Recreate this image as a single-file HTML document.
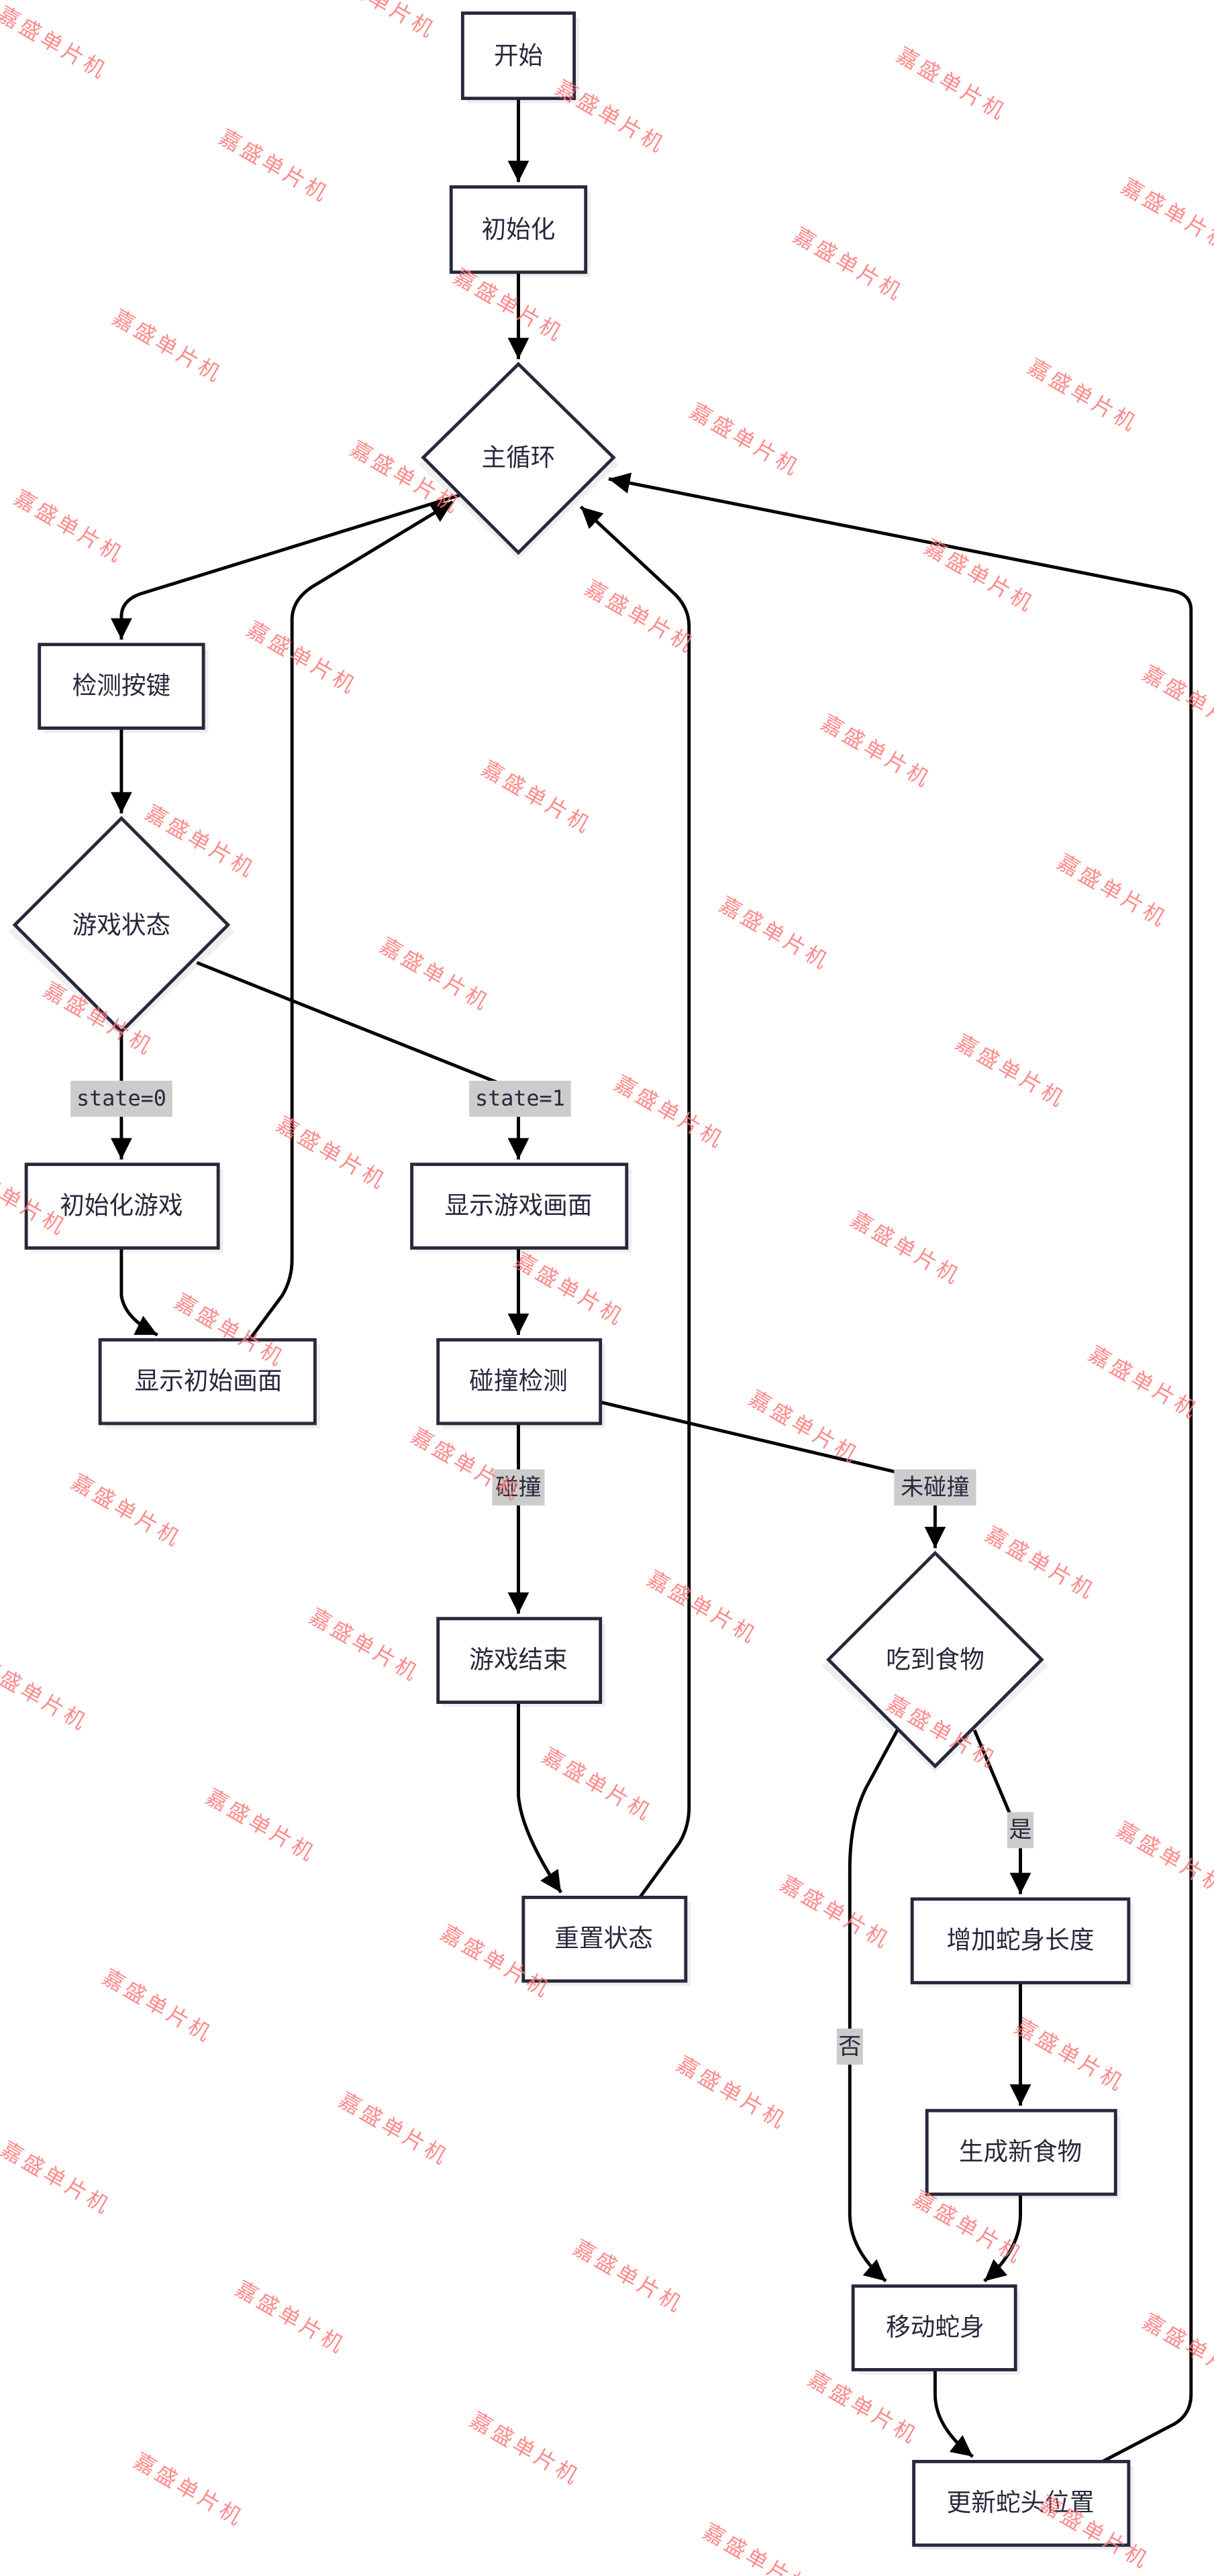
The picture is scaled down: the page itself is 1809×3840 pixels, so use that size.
<!DOCTYPE html>
<html><head><meta charset="utf-8">
<style>
html,body{margin:0;padding:0;background:#fff;}
svg{display:block;}
.n{fill:#fff;stroke:#28283c;stroke-width:2;}
.sh{fill:#efefef;}
.t{font-family:"Liberation Sans","Noto Sans CJK SC",sans-serif;font-size:15px;fill:#28283c;text-anchor:middle;dominant-baseline:central;}
.e{fill:none;stroke:#000;stroke-width:2;}
.lb{fill:#ccc;}
.lt{font-family:"Liberation Sans","Noto Sans CJK SC",sans-serif;font-size:14px;fill:#28283c;text-anchor:middle;dominant-baseline:central;}
.lm{font-family:"DejaVu Sans Mono","Liberation Mono",monospace;font-size:13px;fill:#28283c;text-anchor:middle;dominant-baseline:central;}
.w{font-family:"Liberation Sans","Noto Sans CJK SC",sans-serif;font-size:13px;fill:#f77;opacity:0.85;text-anchor:middle;letter-spacing:2px;}
</style></head>
<body>
<svg width="1809" height="3840" viewBox="0 0 740 1570.8" preserveAspectRatio="none" xmlns="http://www.w3.org/2000/svg">
<defs>
<marker id="a" markerUnits="userSpaceOnUse" markerWidth="13" markerHeight="13" refX="10" refY="5" orient="auto" viewBox="0 0 10 10">
<path d="M0,0 L10,5 L0,10 z" fill="#000"/>
</marker>
</defs>

<g class="sh">
<rect x="285" y="11" width="68" height="52"/>
<rect x="278" y="117" width="82" height="52"/>
<polygon points="316,226 377,283 316,341 255,283"/>
<rect x="27" y="396" width="100" height="51"/>
<polygon points="74,503 143,568 74,633 5,568"/>
<rect x="19" y="713" width="117" height="51"/>
<rect x="64" y="820" width="131" height="51"/>
<rect x="254" y="713" width="131" height="51"/>
<rect x="270" y="820" width="99" height="51"/>
<rect x="270" y="990" width="99" height="51"/>
<rect x="322" y="1160" width="99" height="51"/>
<polygon points="570,951 639,1016 570,1081 501,1016"/>
<rect x="559" y="1161" width="132" height="51"/>
<rect x="568" y="1290" width="115" height="51"/>
<rect x="523" y="1397" width="99" height="51"/>
<rect x="560" y="1504" width="131" height="51"/>
</g>

<g class="e">
<path d="M316,60 L316,111" marker-end="url(#a)"/>
<path d="M316,166 L316,219" marker-end="url(#a)"/>
<path d="M280,302 L86,362 Q74,366 74,376 L74,390" marker-end="url(#a)"/>
<path d="M152,817 L172,790 Q178,780 178,768 L178,378 Q178,366 190,358 L276,306" marker-end="url(#a)"/>
<path d="M390,1157 L414,1124 Q420,1114 420,1102 L420,382 Q420,370 410,361 L354,309" marker-end="url(#a)"/>
<path d="M672,1501 L716,1478 Q726,1472 726,1460 L726,372 Q726,362 714,360 L371,292" marker-end="url(#a)"/>
<path d="M74,444 L74,496" marker-end="url(#a)"/>
<path d="M74,629 L74,707" marker-end="url(#a)"/>
<path d="M120,587 L303,660"/>
<path d="M316,681 L316,707" marker-end="url(#a)"/>
<path d="M74,761 L74,790 Q76,804 96,814" marker-end="url(#a)"/>
<path d="M316,761 L316,814" marker-end="url(#a)"/>
<path d="M316,868 L316,984" marker-end="url(#a)"/>
<path d="M366,855 L552,899"/>
<path d="M570,918 L570,944" marker-end="url(#a)"/>
<path d="M316,1038 L316,1095 Q318,1118 342,1154" marker-end="url(#a)"/>
<path d="M594,1055 L616,1107"/>
<path d="M622,1127 L622,1155" marker-end="url(#a)"/>
<path d="M547,1055 L528,1090 Q518,1110 518,1140 L518,1350 Q518,1372 540,1391" marker-end="url(#a)"/>
<path d="M622,1209 L622,1284" marker-end="url(#a)"/>
<path d="M622,1338 L622,1350 Q622,1372 600,1391" marker-end="url(#a)"/>
<path d="M570,1445 L570,1460 Q570,1480 593,1498" marker-end="url(#a)"/>
</g>

<rect class="lb" x="43" y="659" width="62" height="22"/><text class="lm" x="74" y="670">state=0</text>
<rect class="lb" x="286" y="659" width="62" height="22"/><text class="lm" x="317" y="670">state=1</text>
<rect class="lb" x="300" y="896" width="32" height="22"/><text class="lt" x="316" y="907">碰撞</text>
<rect class="lb" x="545" y="896" width="50" height="22"/><text class="lt" x="570" y="907">未碰撞</text>
<rect class="lb" x="614" y="1105" width="16" height="22"/><text class="lt" x="622" y="1116">是</text>
<rect class="lb" x="510" y="1237" width="16" height="22"/><text class="lt" x="518" y="1248">否</text>

<rect class="n" x="282" y="8" width="68" height="52"/><text class="t" x="316" y="34">开始</text>
<rect class="n" x="275" y="114" width="82" height="52"/><text class="t" x="316" y="140">初始化</text>
<polygon class="n" points="316,222 374,279 316,337 258,279"/><text class="t" x="316" y="279">主循环</text>
<rect class="n" x="24" y="393" width="100" height="51"/><text class="t" x="74" y="418">检测按键</text>
<polygon class="n" points="74,499 139,564 74,629 9,564"/><text class="t" x="74" y="564">游戏状态</text>
<rect class="n" x="16" y="710" width="117" height="51"/><text class="t" x="74" y="735">初始化游戏</text>
<rect class="n" x="61" y="817" width="131" height="51"/><text class="t" x="127" y="842">显示初始画面</text>
<rect class="n" x="251" y="710" width="131" height="51"/><text class="t" x="316" y="735">显示游戏画面</text>
<rect class="n" x="267" y="817" width="99" height="51"/><text class="t" x="316" y="842">碰撞检测</text>
<rect class="n" x="267" y="987" width="99" height="51"/><text class="t" x="316" y="1012">游戏结束</text>
<rect class="n" x="319" y="1157" width="99" height="51"/><text class="t" x="368" y="1182">重置状态</text>
<polygon class="n" points="570,947 635,1012 570,1077 505,1012"/><text class="t" x="570" y="1012">吃到食物</text>
<rect class="n" x="556" y="1158" width="132" height="51"/><text class="t" x="622" y="1183">增加蛇身长度</text>
<rect class="n" x="565" y="1287" width="115" height="51"/><text class="t" x="622" y="1312">生成新食物</text>
<rect class="n" x="520" y="1394" width="99" height="51"/><text class="t" x="570" y="1419">移动蛇身</text>
<rect class="n" x="557" y="1501" width="131" height="51"/><text class="t" x="622" y="1526">更新蛇头位置</text>

<g>
<text class="w" transform="translate(30,30) rotate(30)">嘉盛单片机</text>
<text class="w" transform="translate(165,105) rotate(30)">嘉盛单片机</text>
<text class="w" transform="translate(370,75) rotate(30)">嘉盛单片机</text>
<text class="w" transform="translate(578,55) rotate(30)">嘉盛单片机</text>
<text class="w" transform="translate(715,135) rotate(30)">嘉盛单片机</text>
<text class="w" transform="translate(230,5) rotate(30)">嘉盛单片机</text>
<text class="w" transform="translate(100,215) rotate(30)">嘉盛单片机</text>
<text class="w" transform="translate(308,190) rotate(30)">嘉盛单片机</text>
<text class="w" transform="translate(515,165) rotate(30)">嘉盛单片机</text>
<text class="w" transform="translate(658,245) rotate(30)">嘉盛单片机</text>
<text class="w" transform="translate(40,325) rotate(30)">嘉盛单片机</text>
<text class="w" transform="translate(245,295) rotate(30)">嘉盛单片机</text>
<text class="w" transform="translate(452,272) rotate(30)">嘉盛单片机</text>
<text class="w" transform="translate(595,355) rotate(30)">嘉盛单片机</text>
<text class="w" transform="translate(182,405) rotate(30)">嘉盛单片机</text>
<text class="w" transform="translate(388,380) rotate(30)">嘉盛单片机</text>
<text class="w" transform="translate(532,462) rotate(30)">嘉盛单片机</text>
<text class="w" transform="translate(728,432) rotate(30)">嘉盛单片机</text>
<text class="w" transform="translate(120,517) rotate(30)">嘉盛单片机</text>
<text class="w" transform="translate(325,490) rotate(30)">嘉盛单片机</text>
<text class="w" transform="translate(676,547) rotate(30)">嘉盛单片机</text>
<text class="w" transform="translate(470,573) rotate(30)">嘉盛单片机</text>
<text class="w" transform="translate(58,625) rotate(30)">嘉盛单片机</text>
<text class="w" transform="translate(263,598) rotate(30)">嘉盛单片机</text>
<text class="w" transform="translate(614,657) rotate(30)">嘉盛单片机</text>
<text class="w" transform="translate(200,707) rotate(30)">嘉盛单片机</text>
<text class="w" transform="translate(406,682) rotate(30)">嘉盛单片机</text>
<text class="w" transform="translate(550,765) rotate(30)">嘉盛单片机</text>
<text class="w" transform="translate(5,735) rotate(30)">嘉盛单片机</text>
<text class="w" transform="translate(138,815) rotate(30)">嘉盛单片机</text>
<text class="w" transform="translate(345,790) rotate(30)">嘉盛单片机</text>
<text class="w" transform="translate(695,847) rotate(30)">嘉盛单片机</text>
<text class="w" transform="translate(75,925) rotate(30)">嘉盛单片机</text>
<text class="w" transform="translate(282,897) rotate(30)">嘉盛单片机</text>
<text class="w" transform="translate(488,874) rotate(30)">嘉盛单片机</text>
<text class="w" transform="translate(632,957) rotate(30)">嘉盛单片机</text>
<text class="w" transform="translate(18,1037) rotate(30)">嘉盛单片机</text>
<text class="w" transform="translate(220,1007) rotate(30)">嘉盛单片机</text>
<text class="w" transform="translate(426,984) rotate(30)">嘉盛单片机</text>
<text class="w" transform="translate(572,1060) rotate(30)">嘉盛单片机</text>
<text class="w" transform="translate(157,1117) rotate(30)">嘉盛单片机</text>
<text class="w" transform="translate(362,1092) rotate(30)">嘉盛单片机</text>
<text class="w" transform="translate(712,1137) rotate(30)">嘉盛单片机</text>
<text class="w" transform="translate(94,1227) rotate(30)">嘉盛单片机</text>
<text class="w" transform="translate(300,1200) rotate(30)">嘉盛单片机</text>
<text class="w" transform="translate(507,1170) rotate(30)">嘉盛单片机</text>
<text class="w" transform="translate(650,1257) rotate(30)">嘉盛单片机</text>
<text class="w" transform="translate(32,1332) rotate(30)">嘉盛单片机</text>
<text class="w" transform="translate(238,1302) rotate(30)">嘉盛单片机</text>
<text class="w" transform="translate(444,1280) rotate(30)">嘉盛单片机</text>
<text class="w" transform="translate(588,1362) rotate(30)">嘉盛单片机</text>
<text class="w" transform="translate(175,1417) rotate(30)">嘉盛单片机</text>
<text class="w" transform="translate(381,1392) rotate(30)">嘉盛单片机</text>
<text class="w" transform="translate(728,1437) rotate(30)">嘉盛单片机</text>
<text class="w" transform="translate(113,1522) rotate(30)">嘉盛单片机</text>
<text class="w" transform="translate(318,1497) rotate(30)">嘉盛单片机</text>
<text class="w" transform="translate(524,1472) rotate(30)">嘉盛单片机</text>
<text class="w" transform="translate(665,1548) rotate(30)">嘉盛单片机</text>
<text class="w" transform="translate(460,1565) rotate(30)">嘉盛单片机</text>
</g>
</svg>
</body></html>
